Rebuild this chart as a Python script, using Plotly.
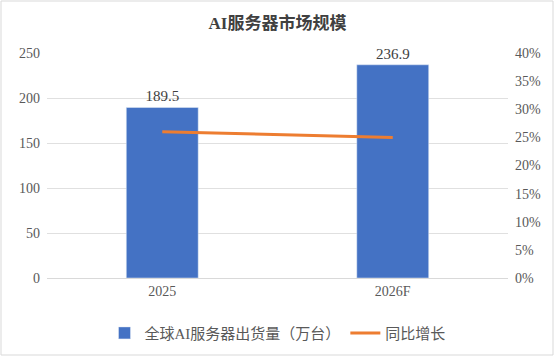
import plotly.graph_objects as go

categories = ["2025", "2026F"]
shipments = [189.5, 236.9]
growth = [0.26, 0.25]
bar_labels = ["189.5", "236.9"]

FONT = "Liberation Serif, Noto Sans CJK SC, serif"
TXT = "#595959"

fig = go.Figure()
fig.add_trace(go.Bar(
    x=categories, y=shipments, name="全球AI服务器出货量（万台）",
    marker_color="#4472C4", text=bar_labels, textposition="outside",
    textfont=dict(size=15, color="#404040", family=FONT), cliponaxis=False,
))
fig.add_trace(go.Scatter(
    x=categories, y=growth, name="同比增长", mode="lines",
    line=dict(color="#ED7D31", width=3), yaxis="y2",
))

fig.update_layout(
    width=555, height=357,
    margin=dict(l=47, r=47, t=53, b=79, autoexpand=False),
    paper_bgcolor="white", plot_bgcolor="white",
    font=dict(family=FONT, color=TXT, size=13),
    title=dict(text="<b>AI服务器市场规模</b>", x=0.5, xanchor="center", y=0.935, yanchor="middle",
               font=dict(size=17, color="#404040", family=FONT)),
    bargap=0.688,
    showlegend=True,
    legend=dict(orientation="h", x=0.5, xanchor="center", y=-0.245, yanchor="middle",
                font=dict(size=15, color=TXT, family=FONT), itemwidth=30),
    xaxis=dict(showline=True, linecolor="#D9D9D9", ticks="", tickfont=dict(size=14, color=TXT),
               automargin=False),
    yaxis=dict(range=[0, 250], dtick=50, showgrid=True, gridcolor="#E0E0E0", zeroline=False,
               tickfont=dict(size=14, color=TXT), ticklabelstandoff=6, automargin=False),
    yaxis2=dict(range=[0, 0.4], dtick=0.05, tickformat=".0%", overlaying="y", side="right",
                showgrid=False, zeroline=False, tickfont=dict(size=14, color=TXT),
                ticklabelstandoff=6, automargin=False),
    shapes=[dict(type="rect", xref="paper", yref="paper",
                 x0=-46/461, x1=506/461, y0=-77/225, y1=277/225,
                 line=dict(color="#D9D9D9", width=1), fillcolor="rgba(0,0,0,0)", layer="below")],
)

fig.write_html("out.html", config={"displayModeBar": False},
               post_script="document.body.style.margin='0';document.body.style.overflow='hidden';")
